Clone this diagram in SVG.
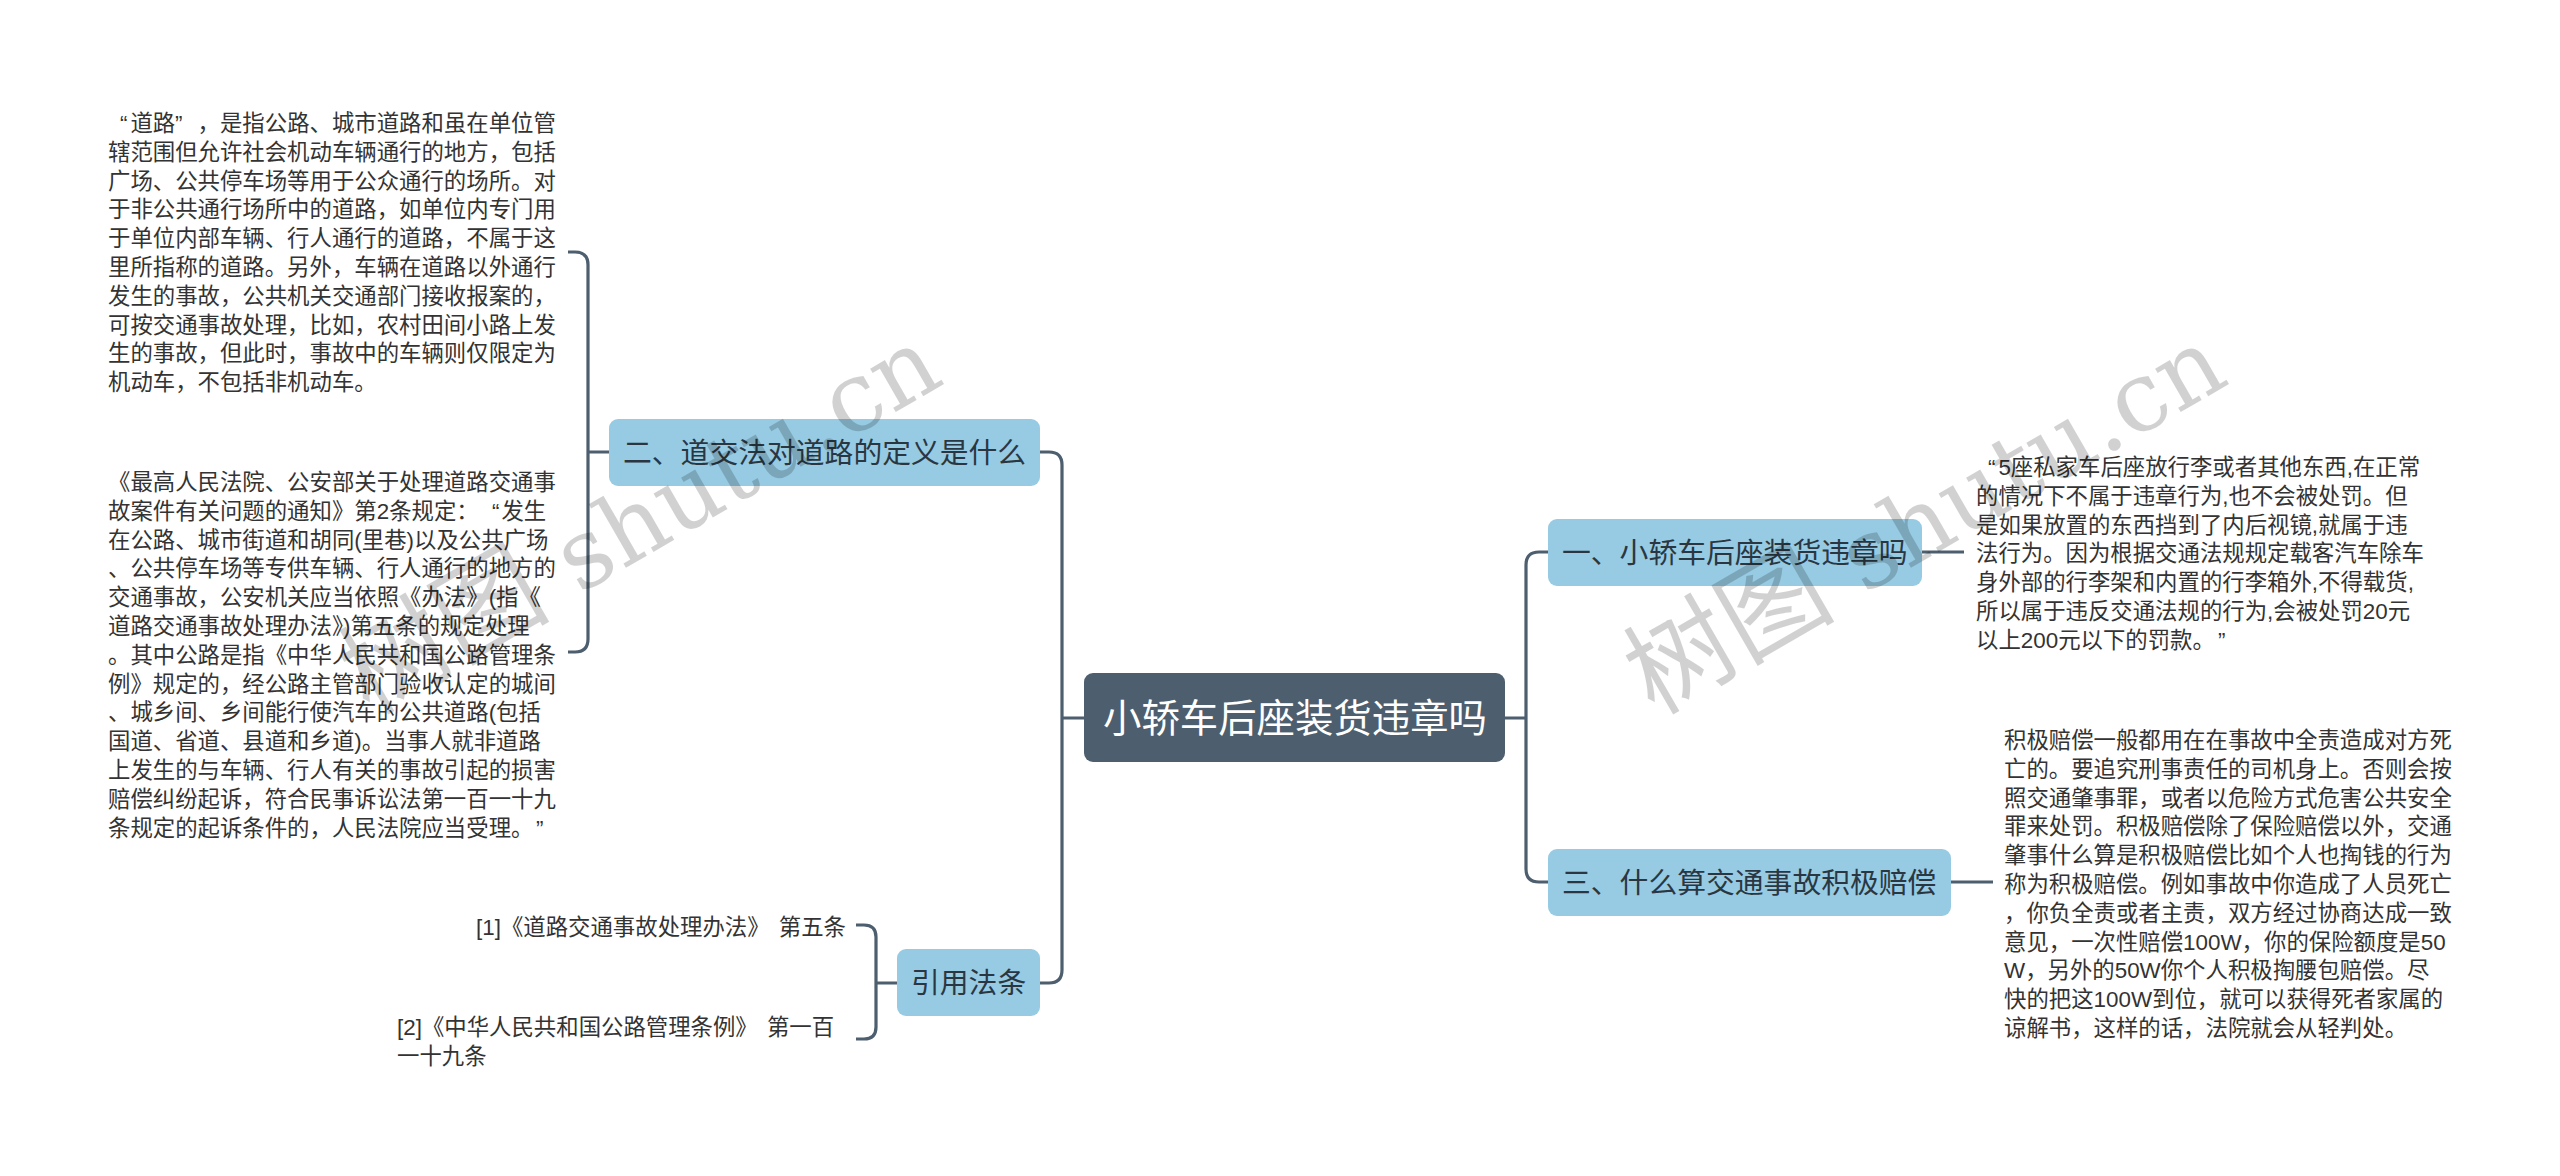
<svg xmlns="http://www.w3.org/2000/svg" width="2560" height="1176" viewBox="0 0 2560 1176">
<style>
text{font-family:"Liberation Sans","Noto Sans CJK SC",sans-serif;white-space:pre}
.b{font-size:22.4px;fill:#333}
.n{font-size:28.8px;fill:#2a3742}
.c{font-size:38.4px;fill:#fff}
.nr{fill:#96cbe3}
.cr{fill:#4d5e6e}
.l{fill:none;stroke:#4d5e6e;stroke-width:3.2}
.w{font-family:"DejaVu Serif","Noto Sans CJK SC",serif;font-size:97px;fill:#000;fill-opacity:.18}
.wc{font-size:106px}
</style>
<rect width="2560" height="1176" fill="#fff"/>
<g id="connectors">
<path class="l" d="M1084 718H1062M1040 452H1049Q1062 452 1062 465V970Q1062 983 1049 983H1040"/>
<path class="l" d="M1505 718H1526M1548 552H1539Q1526 552 1526 565V869Q1526 882 1539 882H1548"/>
<path class="l" d="M609 452H588M568 252H575Q588 252 588 265V639Q588 652 575 652H568"/>
<path class="l" d="M897 983H876M856 925H864Q876 925 876 937V1027Q876 1039 864 1039H856"/>
<path class="l" d="M1922 552H1964M1951 882H1993"/>
</g>
<g id="root"><rect class="cr" x="1084" y="673" width="421" height="89" rx="9"/><text class="c" x="1103" y="732">小轿车后座装货违章吗</text></g>
<g id="n2"><rect class="nr" x="609" y="419" width="431" height="67" rx="9"/><text class="n" x="623" y="463">二、道交法对道路的定义是什么</text></g>
<g id="n1"><rect class="nr" x="1548" y="519" width="374" height="67" rx="9"/><text class="n" x="1562" y="563">一、小轿车后座装货违章吗</text></g>
<g id="n3"><rect class="nr" x="1548" y="849" width="403" height="67" rx="9"/><text class="n" x="1562" y="893">三、什么算交通事故积极赔偿</text></g>
<g id="n4"><rect class="nr" x="897" y="949" width="143" height="67" rx="9"/><text class="n" x="911" y="993">引用法条</text></g>
<g id="t-road"><text class="b">
<tspan x="120" y="131">“</tspan><tspan x="130.4">道路</tspan><tspan x="175">”</tspan><tspan x="197.6">，是指公路、城市道路和虽在单位管</tspan>
<tspan x="108" y="159.8">辖范围但允许社会机动车辆通行的地方，包括</tspan>
<tspan x="108" y="188.6">广场、公共停车场等用于公众通行的场所。对</tspan>
<tspan x="108" y="217.4">于非公共通行场所中的道路，如单位内专门用</tspan>
<tspan x="108" y="246.2">于单位内部车辆、行人通行的道路，不属于这</tspan>
<tspan x="108" y="275">里所指称的道路。另外，车辆在道路以外通行</tspan>
<tspan x="108" y="303.8">发生的事故，公共机关交通部门接收报案的，</tspan>
<tspan x="108" y="332.6">可按交通事故处理，比如，农村田间小路上发</tspan>
<tspan x="108" y="361.4">生的事故，但此时，事故中的车辆则仅限定为</tspan>
<tspan x="108" y="390.2">机动车，不包括非机动车。</tspan>
</text></g>
<g id="t-notice"><text class="b">
<tspan x="108" y="490">《最高人民法院、公安部关于处理道路交通事</tspan>
<tspan x="108" y="518.8">故案件有关问题的通知》第2条规定：</tspan><tspan x="492">“</tspan><tspan x="501.4">发生</tspan>
<tspan x="108" y="547.6">在公路、城市街道和胡同(里巷)以及公共广场</tspan>
<tspan x="108" y="576.4">、公共停车场等专供车辆、行人通行的地方的</tspan>
<tspan x="108" y="605.2">交通事故，公安机关应当依照《办法》(指《</tspan>
<tspan x="108" y="634">道路交通事故处理办法》)第五条的规定处理</tspan>
<tspan x="108" y="662.8">。其中公路是指《中华人民共和国公路管理条</tspan>
<tspan x="108" y="691.6">例》规定的，经公路主管部门验收认定的城间</tspan>
<tspan x="108" y="720.4">、城乡间、乡间能行使汽车的公共道路(包括</tspan>
<tspan x="108" y="749.2">国道、省道、县道和乡道)。当事人就非道路</tspan>
<tspan x="108" y="778">上发生的与车辆、行人有关的事故引起的损害</tspan>
<tspan x="108" y="806.8">赔偿纠纷起诉，符合民事诉讼法第一百一十九</tspan>
<tspan x="108" y="835.6">条规定的起诉条件的，人民法院应当受理。</tspan><tspan x="536">”</tspan>
</text></g>
<g id="t-ref1"><text class="b" x="476" y="935">[1]《道路交通事故处理办法》 <tspan dx="3">第五条</tspan></text></g>
<g id="t-ref2"><text class="b"><tspan x="397" y="1035">[2]《中华人民共和国公路管理条例》 </tspan><tspan dx="3">第一百</tspan><tspan x="397" y="1063.8">一十九条</tspan></text></g>
<g id="t-seat"><text class="b">
<tspan x="1988" y="475">“</tspan><tspan x="1998.4">5座私家车后座放行李或者其他东西,在正常</tspan>
<tspan x="1976" y="503.8">的情况下不属于违章行为,也不会被处罚。但</tspan>
<tspan x="1976" y="532.6">是如果放置的东西挡到了内后视镜,就属于违</tspan>
<tspan x="1976" y="561.4">法行为。因为根据交通法规规定载客汽车除车</tspan>
<tspan x="1976" y="590.2">身外部的行李架和内置的行李箱外,不得载货,</tspan>
<tspan x="1976" y="619">所以属于违反交通法规的行为,会被处罚20元</tspan>
<tspan x="1976" y="647.8">以上200元以下的罚款。</tspan><tspan x="2218">”</tspan>
</text></g>
<g id="t-active"><text class="b">
<tspan x="2004" y="748">积极赔偿一般都用在在事故中全责造成对方死</tspan>
<tspan x="2004" y="776.8">亡的。要追究刑事责任的司机身上。否则会按</tspan>
<tspan x="2004" y="805.6">照交通肇事罪，或者以危险方式危害公共安全</tspan>
<tspan x="2004" y="834.4">罪来处罚。积极赔偿除了保险赔偿以外，交通</tspan>
<tspan x="2004" y="863.2">肇事什么算是积极赔偿比如个人也掏钱的行为</tspan>
<tspan x="2004" y="892">称为积极赔偿。例如事故中你造成了人员死亡</tspan>
<tspan x="2004" y="920.8">，你负全责或者主责，双方经过协商达成一致</tspan>
<tspan x="2004" y="949.6">意见，一次性赔偿100W，你的保险额度是50</tspan>
<tspan x="2004" y="978.4">W，另外的50W你个人积极掏腰包赔偿。尽</tspan>
<tspan x="2004" y="1007.2">快的把这100W到位，就可以获得死者家属的</tspan>
<tspan x="2004" y="1036">谅解书，这样的话，法院就会从轻判处。</tspan>
</text></g>
<g id="watermark">
<text class="w" transform="translate(1654 716) rotate(-30)"><tspan class="wc">树图</tspan> shutu.cn</text>
<text class="w" transform="translate(369 716) rotate(-30)"><tspan class="wc">树图</tspan> shutu.cn</text>
</g>
</svg>
